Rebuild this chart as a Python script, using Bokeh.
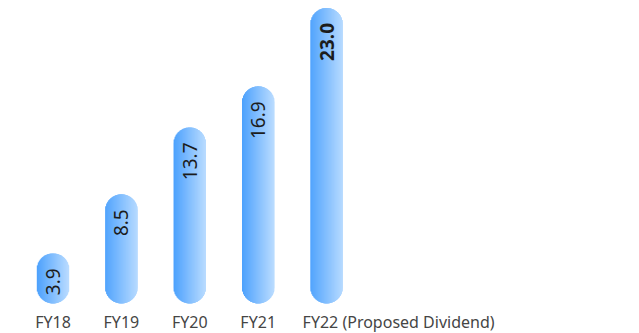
import math

from bokeh.core.properties import value
from bokeh.embed import file_html
from bokeh.models import ColumnDataSource, Range1d
from bokeh.plotting import figure
from bokeh.resources import INLINE

# Dividend per share by fiscal year
categories = ["FY18", "FY19", "FY20", "FY21", "FY22 (Proposed Dividend)"]
dividends = [3.9, 8.5, 13.7, 16.9, 23.0]
value_labels = [f"{v:.1f}" for v in dividends]

W, H = 639, 333
PX_X = 68.4        # pixels per category step
PX_Y = 12.85       # pixels per unit of dividend
LEFT_PAD = 52.5    # pixels from left edge to the first bar centre
BASE_PAD = 30      # pixels from the bottom edge to the zero line
BAR_W = 32         # bar width in pixels (pill: radius = BAR_W / 2)
LEFT_COLOR = (78, 162, 253)
RIGHT_COLOR = (184, 219, 255)

x_start = -LEFT_PAD / PX_X
y_start = -BASE_PAD / PX_Y

p = figure(
    width=W, height=H,
    x_range=Range1d(x_start, x_start + W / PX_X),
    y_range=Range1d(y_start, y_start + H / PX_Y),
    x_axis_location=None, y_axis_location=None,
    toolbar_location=None, output_backend="svg",
    min_border=0, outline_line_color=None,
    background_fill_color="white", border_fill_color="white",
)
p.grid.visible = False

xs = list(range(len(categories)))

# base pill for each bar
p.vbar(x=xs, top=dividends, bottom=0, width=BAR_W / PX_X,
       fill_color="#8cc3fe", line_color=None, border_radius=BAR_W // 2)

# horizontal gradient, built from 1px vertical strips clipped to the pill
r = BAR_W / 2
sx, stop, sbot, scol = [], [], [], []
for i, v in enumerate(dividends):
    for k in range(BAR_W):
        dx = -r + k + 0.5
        inset = (r - math.sqrt(max(r * r - dx * dx, 0.0))) / PX_Y
        t = k / (BAR_W - 1)
        c = tuple(int(round(a + (b - a) * t)) for a, b in zip(LEFT_COLOR, RIGHT_COLOR))
        sx.append(i + dx / PX_X)
        stop.append(v - inset)
        sbot.append(inset)
        scol.append("#%02x%02x%02x" % c)
p.vbar(x=sx, top=stop, bottom=sbot, width=1.4 / PX_X,
       fill_color=scol, line_color=None)

# rotated value labels near the top of each bar
lab = ColumnDataSource(dict(
    x=xs,
    y=[v - 15 / PX_Y for v in dividends],
    text=value_labels,
    style=["normal"] * 4 + ["bold"],
))
p.text(x="x", y="y", text="text", source=lab, angle=math.pi / 2,
       text_align="right", text_baseline="middle",
       text_font=value("Noto Sans"), text_font_size="19px",
       text_font_style="style", text_color="#1c1c1c")

# category labels under the bars
cat = ColumnDataSource(dict(
    x=xs,
    y=[-18 / PX_Y] * len(xs),
    text=categories,
    align=["center"] * 4 + ["left"],
    xoff=[0, 0, 0, 0, -24],
))
p.text(x="x", y="y", text="text", source=cat, x_offset="xoff",
       text_align="align", text_baseline="middle",
       text_font=value("Noto Sans"), text_font_size="16px",
       text_color="#454545")

open("out.html", "w").write(file_html(p, INLINE))
